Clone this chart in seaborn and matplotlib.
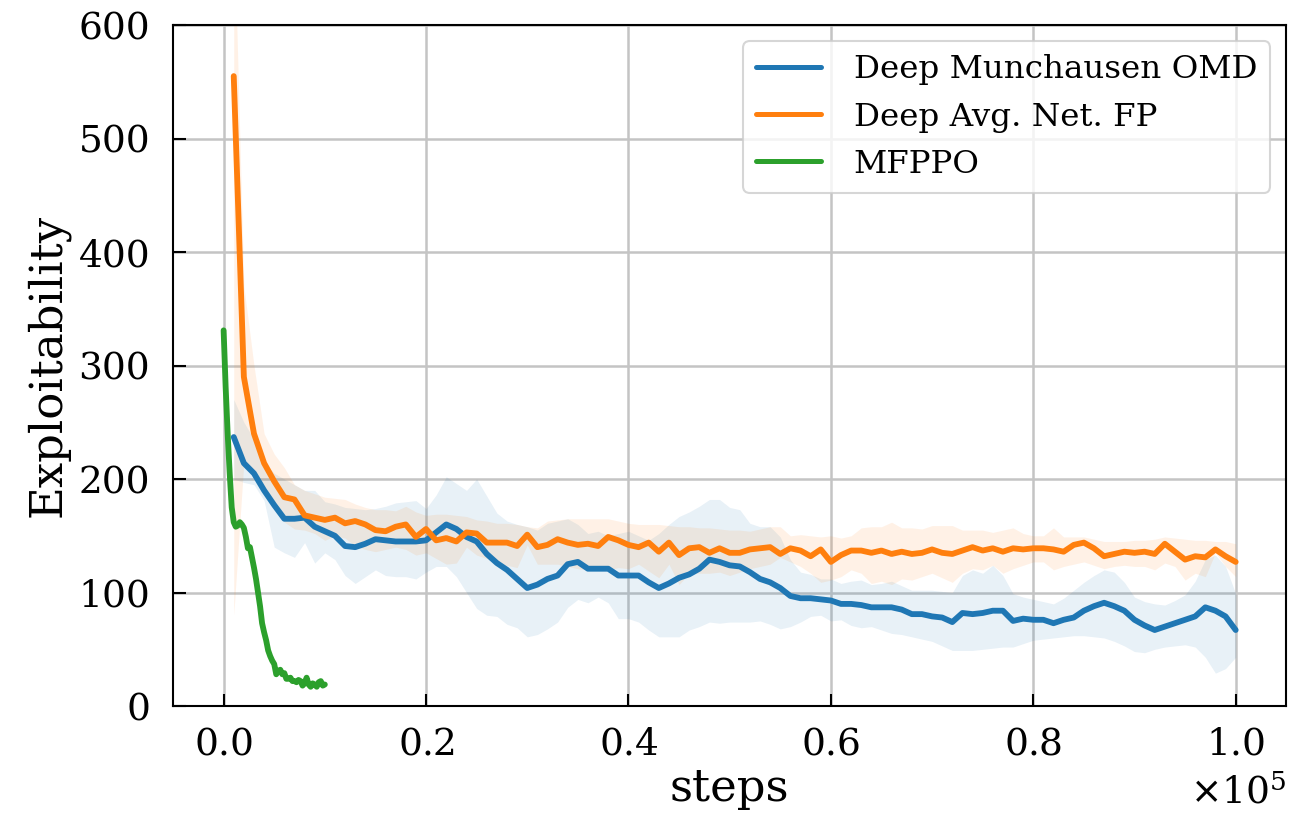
import matplotlib
matplotlib.use("Agg")
import matplotlib.pyplot as plt
import numpy as np
import pandas as pd
import seaborn as sns

# evaluation grid of the two deep methods (every 1000 steps)
steps = np.arange(1000, 101000, 1000)

omd_mean = [237, 214, 205, 190, 177, 165, 165, 166, 158, 154,
            150, 141, 140, 143, 147, 146, 145, 145, 145, 146,
            153, 160, 156, 149, 145, 134, 126, 120, 112, 104,
            107, 112, 115, 125, 127, 121, 121, 121, 115, 115,
            115, 109, 104, 108, 113, 116, 121, 129, 127, 124,
            123, 118, 112, 109, 104, 97, 95, 95, 94, 93,
            90, 90, 89, 87, 87, 87, 85, 81, 81, 79,
            78, 74, 82, 81, 82, 84, 84, 75, 77, 76,
            76, 73, 76, 78, 84, 88, 91, 88, 84, 76,
            71, 67, 70, 73, 76, 79, 87, 84, 79, 67]
omd_upper = [270, 250, 235, 215, 205, 200, 195, 190, 190, 180,
             178, 175, 174, 173, 174, 176, 179, 180, 181, 174,
             186, 202, 196, 190, 200, 185, 170, 163, 160, 158,
             155, 161, 163, 165, 160, 152, 154, 150, 152, 154,
             150, 146, 152, 160, 167, 171, 176, 182, 182, 175,
             173, 161, 158, 158, 149, 129, 118, 116, 112, 112,
             108, 110, 111, 107, 108, 110, 106, 102, 102, 102,
             101, 100, 115, 120, 117, 124, 115, 99, 96, 94,
             92, 90, 95, 102, 109, 115, 120, 118, 109, 96,
             92, 90, 89, 93, 98, 110, 129, 133, 123, 99]
omd_lower = [200, 197, 195, 181, 140, 135, 131, 144, 126, 135,
             129, 115, 108, 114, 120, 115, 114, 114, 112, 118,
             123, 123, 114, 100, 86, 80, 79, 72, 69, 61,
             63, 68, 74, 87, 94, 91, 96, 91, 77, 77,
             74, 67, 61, 61, 61, 67, 70, 74, 73, 74,
             74, 74, 75, 72, 68, 70, 74, 79, 80, 75,
             76, 71, 69, 70, 67, 64, 63, 61, 59, 57,
             53, 49, 49, 49, 50, 51, 52, 52, 55, 58,
             59, 60, 61, 62, 62, 61, 60, 57, 53, 48,
             47, 50, 52, 53, 54, 52, 43, 29, 33, 43]

fp_mean = [555, 290, 240, 214, 198, 184, 182, 168, 166, 164,
           166, 161, 163, 160, 155, 154, 158, 160, 149, 156,
           146, 148, 145, 153, 152, 144, 144, 144, 141, 151,
           140, 142, 147, 144, 142, 143, 141, 149, 146, 142,
           140, 144, 136, 144, 133, 139, 140, 135, 139, 135,
           135, 138, 139, 140, 134, 139, 137, 132, 138, 127,
           133, 137, 137, 135, 137, 134, 136, 134, 135, 138,
           135, 134, 137, 140, 137, 139, 136, 139, 138, 139,
           139, 138, 136, 142, 144, 139, 132, 134, 136, 135,
           136, 134, 143, 136, 129, 132, 131, 138, 132, 127]
fp_upper = [700, 370, 300, 240, 222, 210, 195, 190, 187, 184,
            183, 182, 178, 175, 173, 173, 172, 176, 171, 168,
            169, 169, 168, 167, 164, 163, 161, 161, 160, 158,
            157, 163, 164, 165, 165, 165, 165, 165, 163, 161,
            160, 160, 160, 159, 158, 158, 157, 157, 156, 155,
            155, 154, 156, 158, 158, 150, 151, 150, 149, 150,
            148, 150, 157, 158, 158, 162, 157, 157, 156, 159,
            159, 159, 155, 155, 155, 153, 155, 157, 152, 150,
            150, 157, 149, 149, 149, 147, 145, 145, 145, 146,
            146, 147, 149, 148, 147, 146, 146, 145, 145, 143]
fp_lower = [80, 215, 205, 190, 175, 162, 156, 155, 152, 146,
            150, 148, 141, 138, 136, 138, 140, 138, 133, 135,
            130, 125, 126, 140, 133, 130, 125, 124, 122, 142,
            125, 125, 125, 123, 121, 120, 121, 120, 122, 121,
            125, 119, 113, 125, 107, 117, 117, 117, 118, 115,
            118, 121, 123, 125, 131, 127, 123, 117, 109, 111,
            114, 120, 117, 108, 110, 107, 112, 111, 114, 117,
            113, 109, 117, 121, 120, 124, 117, 121, 124, 127,
            127, 120, 123, 125, 127, 124, 121, 123, 124, 123,
            123, 120, 126, 123, 111, 117, 114, 135, 123, 114]

# MFPPO is logged more often (every 200 steps) and only up to 1e4
mfppo_steps = np.arange(0, 10200, 200)
mfppo_mean = [331, 281, 240, 205, 175, 162, 158, 159, 162, 160,
              157, 149, 139, 140, 131, 122, 112, 100, 88, 73,
              65, 58, 49, 44, 40, 37, 28, 31, 32, 28,
              29, 24, 24, 25, 22, 22, 21, 23, 22, 18,
              20, 25, 19, 17, 20, 19, 17, 21, 22, 18,
              19]

methods = ["Deep Munchausen OMD", "Deep Avg. Net. FP", "MFPPO"]
colors = ["#1f77b4", "#ff7f0e", "#2ca02c"]

df = pd.concat([
    pd.DataFrame({"steps": steps, "exploitability": omd_mean, "method": methods[0]}),
    pd.DataFrame({"steps": steps, "exploitability": fp_mean, "method": methods[1]}),
    pd.DataFrame({"steps": mfppo_steps, "exploitability": mfppo_mean, "method": methods[2]}),
])

sns.set_style("ticks")
plt.rcParams["font.family"] = ["DejaVu Serif"]
plt.rcParams["text.color"] = "black"
plt.rcParams["axes.labelcolor"] = "black"
plt.rcParams["axes.edgecolor"] = "black"
plt.rcParams["xtick.color"] = "black"
plt.rcParams["ytick.color"] = "black"
plt.rcParams["xtick.direction"] = "in"
plt.rcParams["ytick.direction"] = "in"
plt.rcParams["xtick.major.size"] = 3
plt.rcParams["ytick.major.size"] = 3
plt.rcParams["xtick.major.width"] = 0.5
plt.rcParams["ytick.major.width"] = 0.5
plt.rcParams["xtick.major.pad"] = 5
plt.rcParams["ytick.major.pad"] = 5.5
plt.rcParams["axes.linewidth"] = 0.5

fig = plt.figure(figsize=(4.32, 2.7367), dpi=300)
ax = fig.add_axes([0.1335, 0.14, 0.859, 0.8295])

ax.fill_between(steps, omd_lower, omd_upper, color=colors[0], alpha=0.1, linewidth=0)
ax.fill_between(steps, fp_lower, fp_upper, color=colors[1], alpha=0.1, linewidth=0)

sns.lineplot(
    data=df,
    x="steps",
    y="exploitability",
    hue="method",
    hue_order=methods,
    palette=colors,
    linewidth=1.4,
    errorbar=None,
    ax=ax,
)

ax.set_xlim(-5000, 105000)
ax.set_ylim(0, 600)
ax.set_xticks([0, 20000, 40000, 60000, 80000, 100000])
ax.set_yticks([0, 100, 200, 300, 400, 500, 600])
ax.ticklabel_format(axis="x", style="sci", scilimits=(0, 0), useMathText=True)
ax.tick_params(labelsize=9)
ax.xaxis.get_offset_text().set_fontsize(9)
ax.grid(True, color="#c4c4c4", linewidth=0.6)
ax.set_axisbelow(True)

ax.set_xlabel("steps", fontsize=10.8, labelpad=1)
ax.set_ylabel("Exploitability", fontsize=10.8, labelpad=2)

leg = ax.legend(loc="upper right", fontsize=7.8, frameon=True, fancybox=True,
                handletextpad=1.0)
leg.get_frame().set_edgecolor("#cccccc")
leg.get_frame().set_linewidth(0.5)
for line in leg.get_lines():
    line.set_linewidth(1.2)

fig.savefig("out.png", dpi=300)
